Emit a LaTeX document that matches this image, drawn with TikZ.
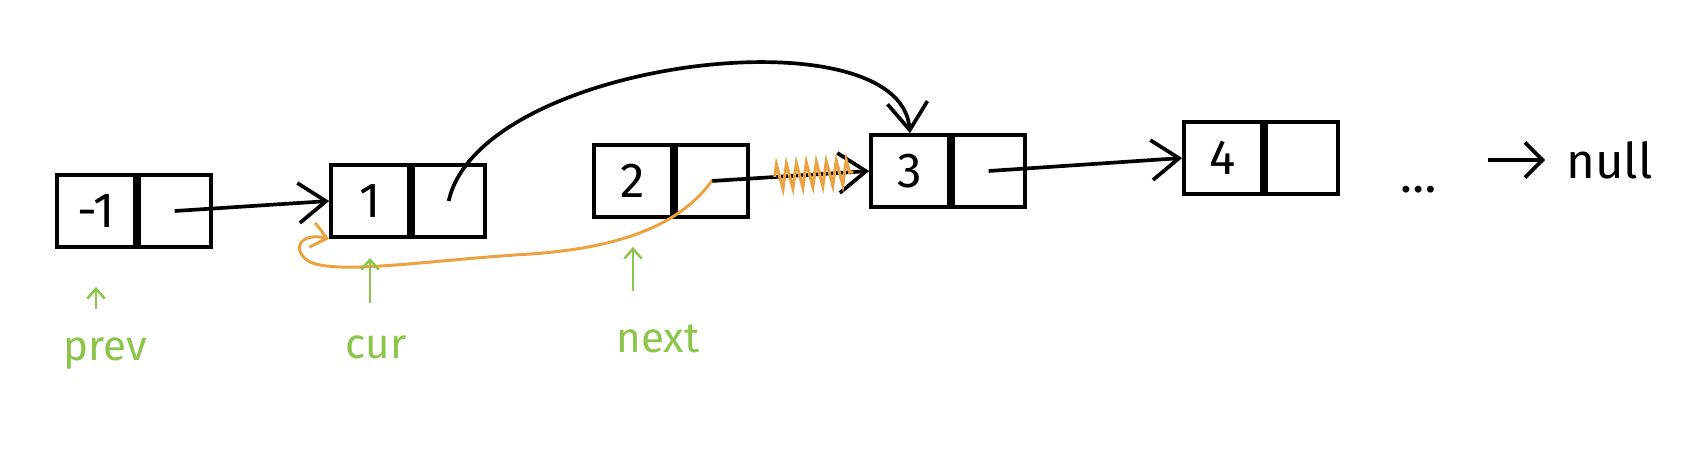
\documentclass[tikz,border=0pt]{standalone}
\usepackage{fontspec}
\setmainfont{Fira Sans}
\usetikzlibrary{arrows.meta,positioning,calc,decorations.pathmorphing}
\definecolor{hintgreen}{RGB}{141,196,74}
\definecolor{fliporange}{RGB}{234,163,64}

\begin{document}
\begin{tikzpicture}[x=0.02cm,y=-0.02cm]
  \tikzstyle{val}=[rectangle,line width=2.1pt,draw=black,minimum width=1.56cm,minimum height=1.44cm,inner sep=0pt,font=\fontsize{28}{30}\selectfont]
  \tikzstyle{ptr}=[rectangle,line width=2.1pt,draw=black,minimum width=1.44cm,minimum height=1.44cm,inner sep=0pt]
  \tikzstyle{link}=[line width=2.1pt,-{Straight Barb[length=0.55cm,width=0.8cm]}]
  \tikzstyle{tail}=[line width=2.1pt,-{Straight Barb[length=0.35cm,width=0.7cm]}]
  \tikzstyle{flip}=[line width=1.7pt,draw=fliporange,-{Straight Barb[length=0.3cm,width=0.5cm]}]
  \tikzstyle{hint}=[line width=1.4pt,draw=hintgreen,-{Straight Barb[length=0.2cm,width=0.35cm]}]
  \tikzstyle{lbl}=[text=hintgreen,font=\fontsize{24}{26}\selectfont,anchor=base]

  \useasboundingbox (0,0) rectangle (1705,457);

  % list cells
  \node[val](vm1) at (96,211){-1};
  \node[ptr,right=0pt of vm1](pm1){};
  \node[val](v1) at (370,201){1};
  \node[ptr,right=0pt of v1](p1){};
  \node[val](v2) at (633,181){2};
  \node[ptr,right=0pt of v2](p2){};
  \node[val](v3) at (910,171){3};
  \node[ptr,right=0pt of v3](p3){};
  \node[val](v4) at (1223,158){4};
  \node[ptr,right=0pt of v4](p4){};
  \node[font=\fontsize{28}{30}\selectfont](dots) at (1419,190){\ldots};
  \node[font=\fontsize{28}{30}\selectfont,anchor=west](null) at (1560,160){null};

  \path[link]
  (pm1.center) edge (v1.west)
  (p2.center) edge (v3.west)
  (p3.center) edge (v4.west);
  \draw[tail,shorten <=0.9cm,shorten >=0.3cm] (dots.east |- null.west) -- (null.west);

  % 1 now skips 2
  \draw[link] (p1.center) .. controls (480,60) and (900,10) .. (v3.north);

  % old link 2 -> 3 crossed out, 2 points back to 1
  \draw[fliporange,line width=1.7pt,decorate,decoration={zigzag,segment length=0.2cm,amplitude=0.25cm}]
  ($(p2.center)!0.4!(v3.west)$) -- ($(v3.west)!0.1!(p2.center)$);
  \draw[flip] (p2.center) .. controls (680,225) and (620,248) .. (530,254)
  .. controls (430,260) and (340,275) .. (310,262)
  .. controls (290,250) and (300,232) .. (v1.south west);

  % pointers
  \node[lbl](prev) at (105,360){prev};
  \node[lbl](cur) at (376,358){cur};
  \node[lbl](next) at (658,352){next};
  \draw[hint,shorten <=0.44cm,shorten >=0.76cm] (prev.north -| vm1.south) -- (vm1.south);
  \draw[hint,shorten <=0.52cm,shorten >=0.38cm] (cur.north -| v1.south) -- (v1.south);
  \draw[hint,shorten <=0.54cm,shorten >=0.56cm] (next.north -| v2.south) -- (v2.south);
\end{tikzpicture}
\end{document}
